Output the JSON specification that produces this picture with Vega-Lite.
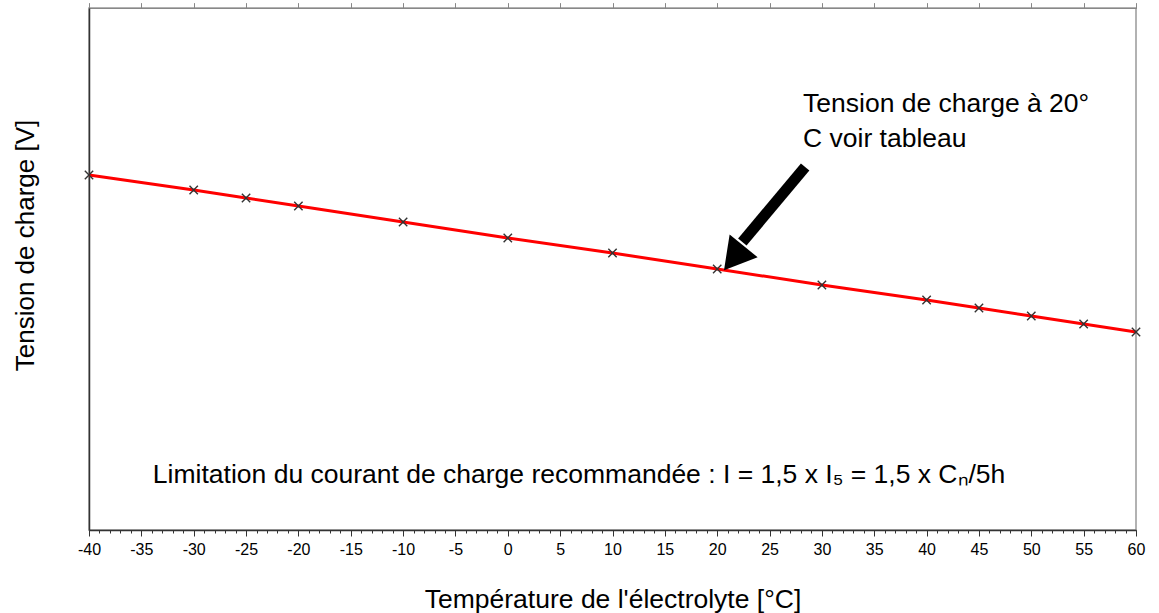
{
  "$schema": "https://vega.github.io/schema/vega-lite/v6.json",
  "autosize": "none",
  "width": 1047,
  "height": 522,
  "padding": {"left": 89, "top": 8, "right": 23, "bottom": 83},
  "background": "white",
  "config": {
    "view": {"stroke": "#999999", "strokeWidth": 1.5},
    "font": "Liberation Sans",
    "axis": {"labelFont": "Liberation Sans", "titleFont": "Liberation Sans", "titleFontWeight": "normal", "grid": false}
  },
  "datasets": {
    "pts": [
      {"t": -40, "v": 355},
      {"t": -30, "v": 340},
      {"t": -25, "v": 332},
      {"t": -20, "v": 324},
      {"t": -10, "v": 308},
      {"t": 0, "v": 292},
      {"t": 10, "v": 277},
      {"t": 20, "v": 261},
      {"t": 30, "v": 245},
      {"t": 40, "v": 230},
      {"t": 45, "v": 222},
      {"t": 50, "v": 214},
      {"t": 55, "v": 206},
      {"t": 60, "v": 198}
    ],
    "arrow": [{"x1": 28.4, "y1": 363, "x2": 22.4, "y2": 288}],
    "head": [{"x": 21.9, "y": 276}],
    "labels": [
      {"x": 28.2, "y": 418, "txt": "Tension de charge à 20°"},
      {"x": 28.2, "y": 383, "txt": "C voir tableau"},
      {"x": -33.9, "y": 47, "txt": "Limitation du courant de charge recommandée : I = 1,5 x I₅ = 1,5 x Cₙ/5h"}
    ]
  },
  "layer": [
    {
      "data": {"name": "pts"},
      "mark": {"type": "line", "color": "#ff0000", "strokeWidth": 3},
      "encoding": {
        "x": {"field": "t", "type": "quantitative", "scale": {"domain": [-40, 60], "nice": false, "zero": false},
          "axis": {"orient": "bottom", "values": [-40,-35,-30,-25,-20,-15,-10,-5,0,5,10,15,20,25,30,35,40,45,50,55,60],
            "labelExpr": "replace(datum.label, '−', '-')",
            "title": "Température de l'électrolyte [°C]", "titleFontSize": 26.5, "titleColor": "#000000",
            "titleY": 69, "titleBaseline": "middle",
            "labelFontSize": 16, "labelColor": "#000000", "labelPadding": 5, "labelFlush": false,
            "tickSize": 6, "tickColor": "#333333", "domainColor": "#333333", "domainWidth": 1.5}},
        "y": {"field": "v", "type": "quantitative", "scale": {"domain": [0, 522], "nice": false, "zero": false},
          "axis": {"title": "Tension de charge [V]", "titleFontSize": 26, "titleColor": "#000000",
            "labels": false, "ticks": false, "domainColor": "#333333", "domainWidth": 1.5,
            "titleX": -64, "titleY": 237, "titleAngle": -90, "titleBaseline": "middle", "titleAlign": "center"}}
      }
    },
    {
      "data": {"name": "pts"},
      "mark": {"type": "point", "shape": "M-1,-1L1,1M-1,1L1,-1", "filled": false, "color": "#333333", "strokeWidth": 1.4, "size": 70, "opacity": 1},
      "encoding": {
        "x": {"field": "t", "type": "quantitative",
          "axis": {"orient": "bottom", "values": [-40,-39,-38,-37,-36,-35,-34,-33,-32,-31,-30,-29,-28,-27,-26,-25,-24,-23,-22,-21,-20,-19,-18,-17,-16,-15,-14,-13,-12,-11,-10,-9,-8,-7,-6,-5,-4,-3,-2,-1,0,1,2,3,4,5,6,7,8,9,10,11,12,13,14,15,16,17,18,19,20,21,22,23,24,25,26,27,28,29,30,31,32,33,34,35,36,37,38,39,40,41,42,43,44,45,46,47,48,49,50,51,52,53,54,55,56,57,58,59,60],
            "labels": false, "title": null, "domain": false, "tickSize": 3, "tickColor": "#333333"}},
        "y": {"field": "v", "type": "quantitative"}
      }
    },
    {
      "data": {"name": "arrow"},
      "mark": {"type": "rule", "color": "#000000", "strokeWidth": 11},
      "encoding": {
        "x": {"field": "x1", "type": "quantitative"},
        "y": {"field": "y1", "type": "quantitative"},
        "x2": {"field": "x2"},
        "y2": {"field": "y2"}
      }
    },
    {
      "data": {"name": "head"},
      "mark": {"type": "point", "shape": "triangle", "filled": true, "color": "#000000", "size": 1300, "angle": 219, "opacity": 1},
      "encoding": {
        "x": {"field": "x", "type": "quantitative"},
        "y": {"field": "y", "type": "quantitative"}
      }
    },
    {
      "data": {"name": "labels"},
      "mark": {"type": "text", "align": "left", "baseline": "alphabetic", "fontSize": 26.5, "font": "Liberation Sans", "color": "#000000"},
      "encoding": {
        "x": {"field": "x", "type": "quantitative"},
        "y": {"field": "y", "type": "quantitative"},
        "text": {"field": "txt"}
      }
    }
  ],
  "resolve": {"axis": {"x": "independent"}}
}
